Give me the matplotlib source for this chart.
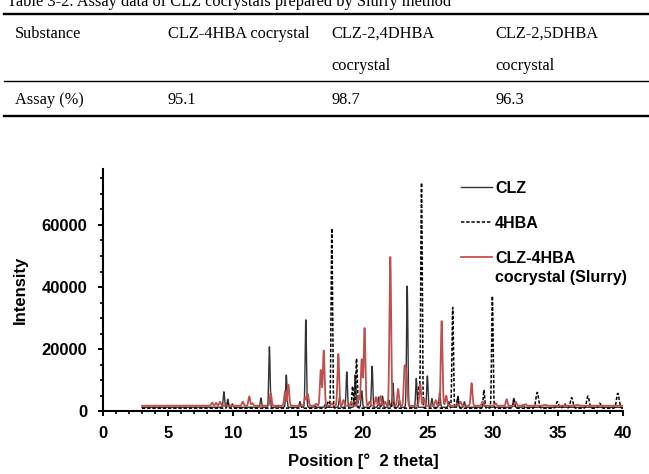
import numpy as np
import matplotlib
matplotlib.use("Agg")
import matplotlib.pyplot as plt
from matplotlib.lines import Line2D
from matplotlib.ticker import MultipleLocator

# ---------------- table data ----------------
caption = "Table 3-2. Assay data of CLZ cocrystals prepared by Slurry method"
table_header = ["Substance", "CLZ-4HBA cocrystal", "CLZ-2,4DHBA\ncocrystal", "CLZ-2,5DHBA\ncocrystal"]
table_row = ["Assay (%)", "95.1", "98.7", "96.3"]

# ---------------- XRD data (peak position [2theta], apex intensity) ----------------
clz_pos = [9.3, 9.6, 9.95, 12.15, 12.8, 13.4, 14.1, 15.15, 15.6, 16.3, 17.1, 18.2,
           18.75, 19.4, 19.9, 20.7, 21.2, 21.5, 22.0, 22.3, 22.8, 23.4, 24.1, 24.95,
           25.3, 25.9, 26.6, 27.3, 27.8, 29.3, 31.6, 32.3]
clz_int = [6200, 3800, 2300, 4200, 20700, 1800, 11600, 3000, 29400, 1800, 2200, 4500,
           12600, 11600, 6500, 14400, 4500, 4800, 3500, 9000, 3500, 40300, 10500, 11300,
           4000, 6000, 3000, 4700, 3000, 2500, 4100, 2000]

hba_pos = [9.6, 15.2, 17.3, 17.6, 19.2, 19.5, 22.3, 24.3, 24.5, 25.8, 26.9, 27.3,
           29.3, 29.95, 31.6, 33.4, 34.95, 35.5, 36.05, 37.3, 38.2, 39.6]
hba_int = [2500, 1800, 2800, 58900, 8000, 16900, 3000, 8000, 73600, 3000, 33400, 4500,
           6800, 37100, 3500, 6000, 3000, 2300, 4300, 4800, 2500, 5700]

co_pos = [8.4, 8.7, 9.0, 10.75, 11.25, 11.5, 12.9, 14.0, 14.26, 15.55, 15.75, 16.4,
          16.75, 16.98, 17.6, 18.1, 18.5, 19.1, 19.65, 19.9, 20.12, 20.5, 21.0, 21.35,
          21.7, 22.1, 22.7, 23.2, 23.35, 24.4, 24.7, 25.6, 26.05, 26.4, 27.5, 28.35,
          29.2, 30.2, 31.05, 31.75, 32.5, 34.0, 36.5]
co_int = [2700, 2600, 3000, 3000, 4700, 2500, 5800, 6300, 8500, 4500, 5500, 2300,
          13200, 19500, 2500, 18400, 3500, 3000, 5000, 16600, 26700, 3000, 4500, 4800,
          3000, 49700, 7100, 13900, 12000, 8800, 4000, 3500, 29000, 4900, 3000, 9000,
          3000, 2500, 3800, 3000, 2200, 2000, 2000]

x_start, x_end = 3.0, 40.0


def profile(pos, apex, base, sigma):
    x = np.arange(x_start, x_end + 1e-9, 0.01)
    y = np.full_like(x, base, dtype=float)
    for p, a in zip(pos, apex):
        s = sigma if p < 33 else sigma * 1.8
        y += (a - base) * np.exp(-0.5 * ((x - p) / s) ** 2)
    return x, y


plt.rcParams['font.family'] = ['Liberation Sans', 'DejaVu Sans']
fig = plt.figure(figsize=(6.49, 4.74), dpi=100)
W, H = 649.0, 474.0

# ---------------- table ----------------
serif = ['Liberation Serif', 'DejaVu Serif']
fig.text(7 / W, 1 - 6.0 / H, caption, family=serif, fontsize=11.8, va='baseline', ha='left')
col_x = [15, 168, 331.5, 495]
for cx, txt in zip(col_x, table_header):
    lines = txt.split("\n")
    for i, ln in enumerate(lines):
        fig.text(cx / W, 1 - (37.5 + 32.5 * i) / H, ln, family=serif, fontsize=11.8,
                 va='baseline', ha='left')
for cx, txt in zip(col_x, table_row):
    fig.text(cx / W, 1 - 104 / H, txt, family=serif, fontsize=11.8, va='baseline', ha='left')
for yy, lw in [(14, 1.7), (81, 1.0), (116, 1.7)]:
    fig.add_artist(Line2D([4 / W, 1.0], [1 - yy / H, 1 - yy / H], transform=fig.transFigure,
                          color='black', lw=lw))

# ---------------- chart ----------------
ax_left, ax_right, ax_bottom, ax_top = 103, 623, 411, 169.2
ax = fig.add_axes([ax_left / W, 1 - ax_bottom / H, (ax_right - ax_left) / W,
                   (ax_bottom - ax_top) / H])

x1, y1 = profile(clz_pos, clz_int, 1200, 0.05)
x2, y2 = profile(hba_pos, hba_int, 900, 0.055)
x3, y3 = profile(co_pos, co_int, 1700, 0.065)

ax.plot(x1, y1, color='#333333', lw=1.0, zorder=2)
ax.plot(x2, y2, color='black', lw=1.1, linestyle=(0, (2.2, 1.2)), zorder=3)
ax.plot(x3, y3, color='#C0504D', lw=1.3, zorder=4)

ax.set_xlim(0, 40)
ax.set_ylim(0, 78000)
ax.xaxis.set_major_locator(MultipleLocator(5))
ax.xaxis.set_minor_locator(MultipleLocator(1))
ax.yaxis.set_major_locator(MultipleLocator(20000))
ax.yaxis.set_minor_locator(MultipleLocator(5000))
for s in ['top', 'right']:
    ax.spines[s].set_visible(False)
for s in ['left', 'bottom']:
    ax.spines[s].set_linewidth(1.5)
ax.tick_params(which='major', direction='out', length=3.6, width=1.4, labelsize=12, pad=7)
ax.tick_params(which='minor', direction='out', length=2.2, width=1.2)
ax.tick_params(axis='y', which='major', pad=7.5)
for lab in ax.get_xticklabels() + ax.get_yticklabels():
    lab.set_fontweight('bold')
ax.set_xlabel("Position [°  2 theta]", fontsize=12, fontweight='bold', labelpad=9)
ax.set_ylabel("Intensity", fontsize=12, fontweight='bold', labelpad=10)

# legend (drawn manually to match the reference layout)
hx0, hx1, tx = 0.688, 0.7475, 0.754
entries = [(0.928, '#333333', '-', 1.0, "CLZ"),
           (0.780, 'black', (0, (2.2, 1.2)), 1.1, "4HBA"),
           (0.638, '#C0504D', '-', 1.3, "CLZ-4HBA")]
for yy, c, ls, lw, lab in entries:
    ax.add_line(Line2D([hx0, hx1], [yy, yy], transform=ax.transAxes, color=c, ls=ls, lw=lw,
                       clip_on=False))
    ax.text(tx, yy, lab, transform=ax.transAxes, fontsize=11.5, fontweight='bold',
            va='center_baseline', ha='left')
ax.text(tx, 0.5596, "cocrystal (Slurry)", transform=ax.transAxes, fontsize=11.5,
        fontweight='bold', va='center_baseline', ha='left')

fig.savefig("out.png", dpi=100)
